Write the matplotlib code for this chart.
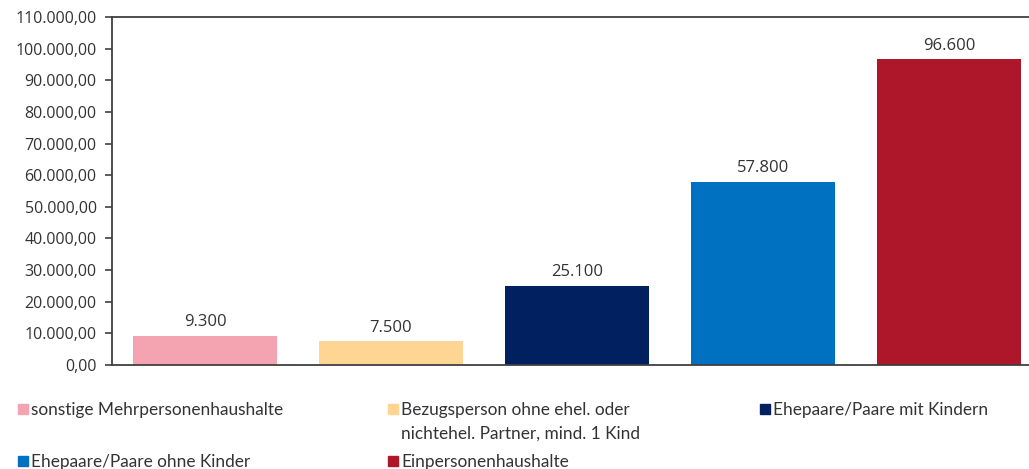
import matplotlib
matplotlib.use("Agg")
import matplotlib.pyplot as plt
from matplotlib.patches import Rectangle

categories = ["sonstige Mehrpersonenhaushalte",
              "Bezugsperson ohne ehel. oder\nnichtehel. Partner, mind. 1 Kind",
              "Ehepaare/Paare mit Kindern",
              "Ehepaare/Paare ohne Kinder",
              "Einpersonenhaushalte"]
values = [9300, 7500, 25100, 57800, 96600]
colors = ["#F4A3B0", "#FFD594", "#002060", "#0070C0", "#AE162A"]
yticks = [0, 10000, 20000, 30000, 40000, 50000, 60000, 70000, 80000, 90000, 100000, 110000]

def de_fmt(v, dec=0):
    s = f"{v:,.{dec}f}"
    return s.replace(",", "X").replace(".", ",").replace("X", ".")

W, H = 1029, 469
fig = plt.figure(figsize=(W / 100, H / 100), dpi=100)
ax = fig.add_axes([112 / W, 1 - 365 / H, (1042 - 112) / W, (365 - 17) / H])

x = list(range(len(values)))
ax.bar(x, values, width=0.77, color=colors, zorder=2)
ax.set_xlim(-0.5, 4.5)
ax.set_ylim(0, 110000)
ax.set_yticks(yticks)
ax.set_yticklabels([de_fmt(t, 2) for t in yticks], fontsize=11.5,
                   family="Open Sans", color="#333333")
ax.set_xticks([])
ax.spines["right"].set_visible(False)
for s in ["left", "bottom", "top"]:
    ax.spines[s].set_color("#404040")
    ax.spines[s].set_linewidth(1.3)
ax.tick_params(axis="y", length=5, width=1.2, color="#404040", pad=6)

for xi, v in zip(x, values):
    ax.text(xi, v + 1800, de_fmt(v), ha="center", va="bottom",
            fontsize=12, family="Open Sans", color="#333333")

# legend (manual, row-wise layout)
leg_pos = [(18, 409), (388, 409), (760, 409), (18, 461), (388, 461)]
for (lx, ly), lab, c in zip(leg_pos, categories, colors):
    fig.patches.append(Rectangle((lx / W, 1 - (ly + 5) / H), 10 / W, 10 / H,
                                 transform=fig.transFigure, color=c))
    fig.text((lx + 13) / W, 1 - (ly - 7) / H, lab, ha="left", va="top",
             fontsize=12.4, family="Lato", color="#333333", linespacing=1.6)

fig.savefig("out.png", dpi=100)
